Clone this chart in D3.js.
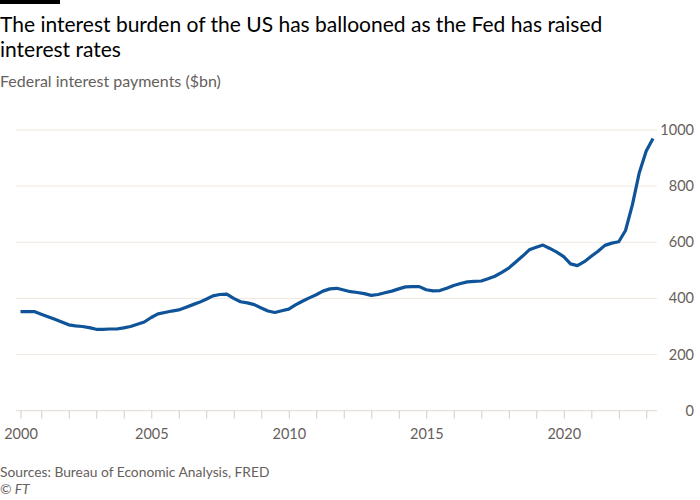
<!DOCTYPE html>
<html>
<head>
<meta charset="utf-8">
<script src="https://cdn.jsdelivr.net/npm/d3@7"></script>
<style>
  html, body { margin: 0; padding: 0; background: #ffffff; }
  svg { display: block; font-family: Lato, "Noto Sans", sans-serif; }
</style>
</head>
<body>
<svg id="chart" width="700" height="500"></svg>
<script>
// ---- data ----
const titleLines = ["The interest burden of the US has ballooned as the Fed has raised", "interest rates"];
const subtitle = "Federal interest payments ($bn)";
const sourceText = "Sources: Bureau of Economic Analysis, FRED";
const creditText = "\u00A9 FT";

// quarter-end dates, 2000 Q1 .. 2023 Q1
const quarters = [
  "2000-03-31","2000-06-30","2000-09-30","2000-12-31",
  "2001-03-31","2001-06-30","2001-09-30","2001-12-31",
  "2002-03-31","2002-06-30","2002-09-30","2002-12-31",
  "2003-03-31","2003-06-30","2003-09-30","2003-12-31",
  "2004-03-31","2004-06-30","2004-09-30","2004-12-31",
  "2005-03-31","2005-06-30","2005-09-30","2005-12-31",
  "2006-03-31","2006-06-30","2006-09-30","2006-12-31",
  "2007-03-31","2007-06-30","2007-09-30","2007-12-31",
  "2008-03-31","2008-06-30","2008-09-30","2008-12-31",
  "2009-03-31","2009-06-30","2009-09-30","2009-12-31",
  "2010-03-31","2010-06-30","2010-09-30","2010-12-31",
  "2011-03-31","2011-06-30","2011-09-30","2011-12-31",
  "2012-03-31","2012-06-30","2012-09-30","2012-12-31",
  "2013-03-31","2013-06-30","2013-09-30","2013-12-31",
  "2014-03-31","2014-06-30","2014-09-30","2014-12-31",
  "2015-03-31","2015-06-30","2015-09-30","2015-12-31",
  "2016-03-31","2016-06-30","2016-09-30","2016-12-31",
  "2017-03-31","2017-06-30","2017-09-30","2017-12-31",
  "2018-03-31","2018-06-30","2018-09-30","2018-12-31",
  "2019-03-31","2019-06-30","2019-09-30","2019-12-31",
  "2020-03-31","2020-06-30","2020-09-30","2020-12-31",
  "2021-03-31","2021-06-30","2021-09-30","2021-12-31",
  "2022-03-31","2022-06-30","2022-09-30","2022-12-31",
  "2023-03-31"
];

const interest = [
  353, 353, 353, 344,
  335, 326, 316, 306,
  302, 300, 296, 290,
  290, 291, 291, 295,
  300, 308, 316, 332,
  345, 350, 355, 359,
  368, 377, 386, 397,
  409, 414, 415, 400,
  388, 384, 378, 366,
  355, 350, 356, 362,
  377, 390, 402, 413,
  426, 434, 436, 430,
  424, 421, 417, 411,
  414, 420, 426, 434,
  441, 442, 442, 431,
  427, 428, 436, 446,
  453, 459, 461, 462,
  470, 479, 493, 508,
  529, 550, 573, 582,
  590, 578, 565, 549,
  523, 517, 531, 550,
  568, 589, 597, 602,
  642, 733, 848, 925,
  970
];

const yTicks = [0, 200, 400, 600, 800, 1000];
const xLabelYears = [2000, 2005, 2010, 2015, 2020];
const minorTickYears = [2001,2002,2003,2004,2005,2006,2007,2008,2009,2010,2011,2012,2013,2014,2015,2016,2017,2018,2019,2020,2021,2022,2023];

// ---- layout ----
const W = 700, H = 500;
const plot = { left: 20.5, right: 653, top: 130, bottom: 410.7, gridLeft: 16, gridRight: 657 };

const parse = d3.timeParse("%Y-%m-%d");
const series = quarters.map((q, i) => ({ date: parse(q), value: interest[i] }));

const x = d3.scaleTime()
  .domain(d3.extent(series, d => d.date))
  .range([plot.left, plot.right]);
const y = d3.scaleLinear()
  .domain([0, 1000])
  .range([plot.bottom, plot.top]);

const svg = d3.select("#chart");

// top black bar
svg.append("rect").attr("x", 0).attr("y", 0).attr("width", 60).attr("height", 4).attr("fill", "#000");

// title
const title = svg.append("text")
  .attr("x", 0).attr("y", 32)
  .attr("fill", "#000")
  .style("font-size", "21px");
titleLines.forEach((t, i) => {
  title.append("tspan").attr("x", 0).attr("dy", i === 0 ? 0 : 25).text(t);
});

svg.append("text")
  .attr("x", 0).attr("y", 87)
  .attr("fill", "#66605c")
  .style("font-size", "16px")
  .text(subtitle);

// gridlines
svg.append("g")
  .selectAll("line")
  .data(yTicks)
  .join("line")
  .attr("x1", plot.gridLeft).attr("x2", plot.gridRight)
  .attr("y1", d => y(d)).attr("y2", d => y(d))
  .attr("stroke", d => d === 0 ? "#e3d9cf" : "#efe7df")
  .attr("stroke-width", 1);

// y labels (right side)
svg.append("g")
  .selectAll("text")
  .data(yTicks)
  .join("text")
  .attr("x", 694)
  .attr("y", d => y(d))
  .attr("dy", "0.35em")
  .attr("text-anchor", "end")
  .attr("fill", "#66605c")
  .style("font-size", "14.5px")
  .text(d => d);

// x axis ticks
const tickDates = [x.domain()[0]].concat(minorTickYears.map(yr => new Date(yr, 0, 1)));
const xAxis = d3.axisBottom(x)
  .tickValues(tickDates)
  .tickSize(8)
  .tickFormat((d, i) => {
    if (i === 0) return "2000";
    const yr = d.getFullYear();
    return xLabelYears.includes(yr) && yr !== 2000 ? String(yr) : "";
  });

const gx = svg.append("g")
  .attr("transform", `translate(0,${plot.bottom})`)
  .call(xAxis);
gx.select(".domain").remove();
gx.selectAll(".tick line").attr("stroke", "#d6ccc2");
gx.selectAll(".tick text")
  .attr("fill", "#66605c")
  .attr("y", 18)
  .attr("dy", "0.71em")
  .style("font-family", "Lato, 'Noto Sans', sans-serif")
  .style("font-size", "14.5px");

// line
const line = d3.line()
  .x(d => x(d.date))
  .y(d => y(d.value));

svg.append("path")
  .datum(series)
  .attr("fill", "none")
  .attr("stroke", "#0f5499")
  .attr("stroke-width", 3.2)
  .attr("stroke-linejoin", "round")
  .attr("stroke-linecap", "butt")
  .attr("d", line);

// sources
svg.append("text")
  .attr("x", 0).attr("y", 477)
  .attr("fill", "#66605c")
  .style("font-size", "13.8px")
  .text(sourceText);
svg.append("text")
  .attr("x", 0).attr("y", 494)
  .attr("fill", "#66605c")
  .style("font-size", "13.8px")
  .style("font-style", "italic")
  .text(creditText);
</script>
</body>
</html>
